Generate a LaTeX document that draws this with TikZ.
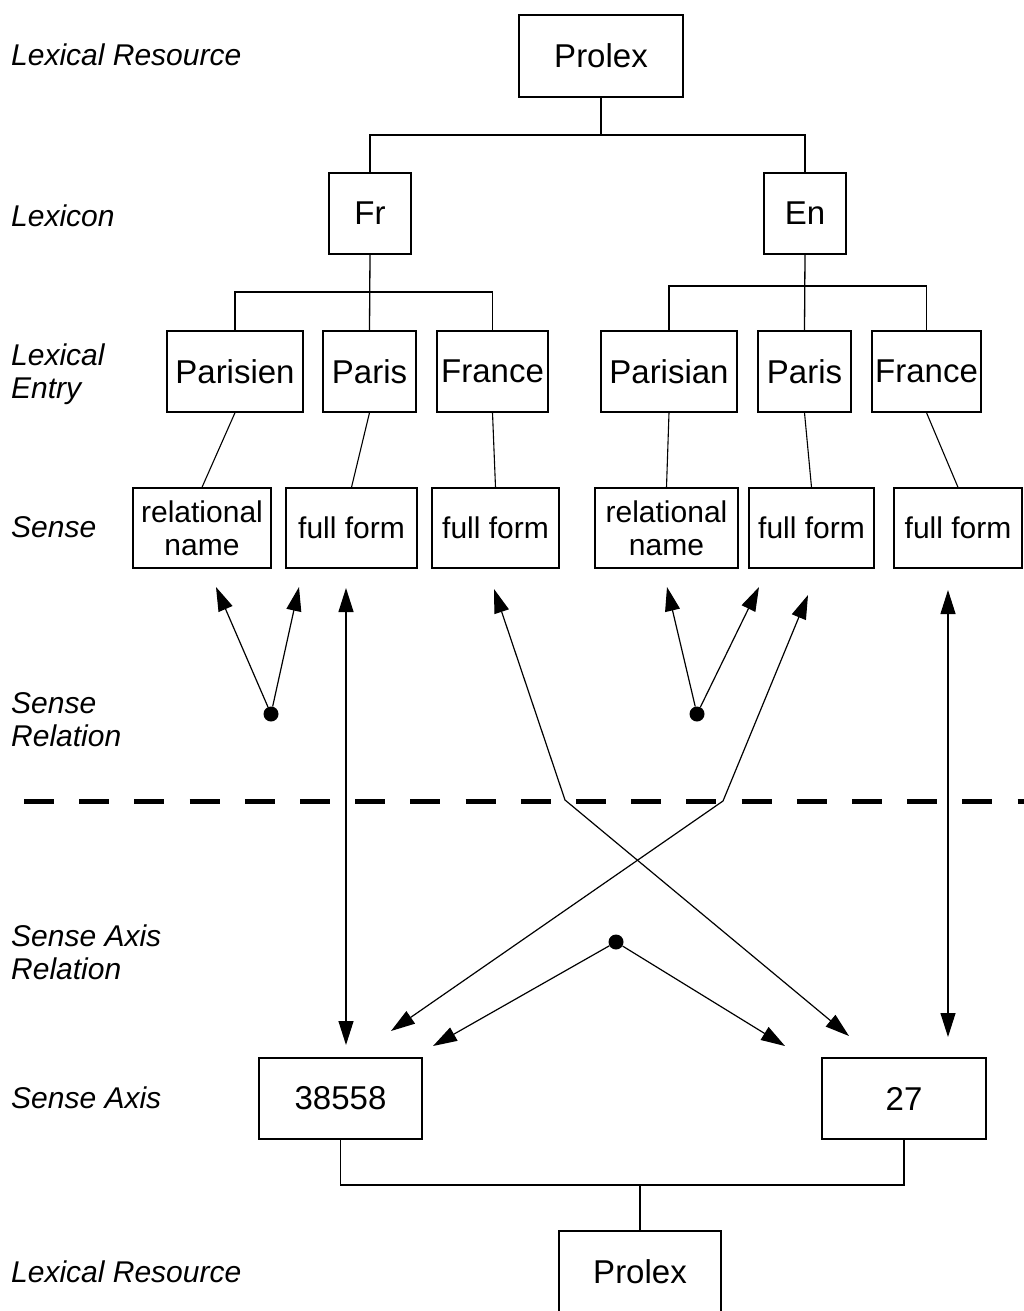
\documentclass[tikz,border=0pt]{standalone}
\usepackage{fontspec}
\setmainfont{Liberation Sans}
\usetikzlibrary{arrows.meta}
\begin{document}
\begin{tikzpicture}[x=1pt,y=-1pt,
  box/.style={draw, line width=1.4pt, inner sep=0pt, font=\fontsize{33}{36}\selectfont},
  sbox/.style={draw, line width=1.4pt, inner sep=0pt, align=center, font=\fontsize{30}{33}\selectfont},
  lbl/.style={anchor=west, inner sep=0pt, align=left, font=\fontsize{30}{33}\selectfont\itshape},
  tree/.style={line width=1.3pt},
  link/.style={line width=1.1pt},
  rel/.style={line width=1.2pt, -{Triangle[length=24pt,width=15pt]}},
  dbl/.style={line width=1.2pt, {Triangle[length=24pt,width=15pt]}-{Triangle[length=24pt,width=15pt]}},
  dot/.style={circle, fill, inner sep=0pt, minimum size=15pt},
]
\clip (0,0) rectangle (1024,1311);

% level labels
\node[lbl] (lres) at (11,55) {Lexical Resource};
\node[lbl] (llex) at (11,216) {Lexicon};
\node[lbl] (lent) at (11,374) {Lexical\\Entry};
\node[lbl] (lsen) at (11,527) {Sense};
\node[lbl] (lrel) at (11,720) {Sense\\Relation};
\node[lbl] (laxr) at (11,952) {Sense Axis\\Relation};
\node[lbl] (lax) at (11,1098) {Sense Axis};
\node[lbl] (lres2) at (11,1272) {Lexical Resource};

% resource and lexicons
\node[box, minimum width=164pt, minimum height=82pt] (prolex) at (601,56) {Prolex};
\node[box, minimum width=82pt, minimum height=81pt] (fr) at (370,213.5) {Fr};
\node[box, minimum width=82pt, minimum height=81pt] (en) at (805,213.5) {En};

% lexical entries
\node[box, minimum width=136pt, minimum height=81pt] (parisien) at (235,371.5) {Parisien};
\node[box, minimum width=93pt, minimum height=81pt] (parisfr) at (369.5,371.5) {Paris};
\node[box, minimum width=111pt, minimum height=81pt] (francefr) at (492.5,371.5) {France};
\node[box, minimum width=136pt, minimum height=81pt] (parisian) at (669,371.5) {Parisian};
\node[box, minimum width=93pt, minimum height=81pt] (parisen) at (804.5,371.5) {Paris};
\node[box, minimum width=109pt, minimum height=81pt] (franceen) at (926.5,371.5) {France};

% senses
\node[sbox, minimum width=138pt, minimum height=80pt] (relfr) at (202,528) {relational\\name};
\node[sbox, minimum width=131pt, minimum height=80pt] (ff1) at (351.5,528) {full form};
\node[sbox, minimum width=127pt, minimum height=80pt] (ff2) at (495.5,528) {full form};
\node[sbox, minimum width=143pt, minimum height=80pt] (relen) at (666.5,528) {relational\\name};
\node[sbox, minimum width=125pt, minimum height=80pt] (ff3) at (811.5,528) {full form};
\node[sbox, minimum width=128pt, minimum height=80pt] (ff4) at (958,528) {full form};

% sense axes and second resource
\node[box, minimum width=163pt, minimum height=81pt] (ax1) at (340.5,1098.5) {38558};
\node[box, minimum width=164pt, minimum height=81pt] (ax2) at (904,1098.5) {27};
\node[box, minimum width=162pt, minimum height=82pt] (prolex2) at (640,1272) {Prolex};

% tree connectors
\coordinate (j0) at (601,135);
\draw[tree] (prolex.south) -- (j0) -| (fr.north);
\draw[tree] (j0) -| (en.north);
\coordinate (jfr) at (370,292);
\draw[tree] (fr.south) -- (parisfr.north);
\draw[tree] (jfr) -| (parisien.north);
\draw[tree] (jfr) -| (francefr.north);
\coordinate (jen) at (805,286);
\draw[tree] (en.south) -- (parisen.north);
\draw[tree] (jen) -| (parisian.north);
\draw[tree] (jen) -| (franceen.north);
\coordinate (jax) at (640,1185);
\draw[tree] (ax1.south) |- (jax) -| (ax2.south);
\draw[tree] (jax) -- (prolex2.north);

% entry to sense links
\draw[link] (parisien.south) -- (relfr.north);
\draw[link] (parisfr.south) -- (ff1.north);
\draw[link] (francefr.south) -- (ff2.north);
\draw[link] (parisian.south) -- (relen.north);
\draw[link] (parisen.south) -- (ff3.north);
\draw[link] (franceen.south) -- (ff4.north);

% sense relations
\node[dot] (d1) at (271,714) {};
\coordinate (t1a) at (216,587);
\coordinate (t1b) at (299,587);
\draw[rel] (d1) -- (t1a);
\draw[rel] (d1) -- (t1b);
\node[dot] (d2) at (697,714) {};
\coordinate (t2a) at (667,587);
\coordinate (t2b) at (759,587);
\draw[rel] (d2) -- (t2a);
\draw[rel] (d2) -- (t2b);

% separator
\coordinate (sepL) at (24,801);
\coordinate (sepR) at (1060,801);
\draw[line width=5pt, dash pattern=on 30pt off 25.2pt] (sepL) -- (sepR);

% sense axis links
\coordinate (v1t) at (346,588);
\coordinate (v1b) at (346,1045);
\draw[dbl] (v1t) -- (v1b);
\coordinate (v2t) at (948,590);
\coordinate (v2b) at (948,1037);
\draw[dbl] (v2t) -- (v2b);
\coordinate (cat) at (494,589);
\coordinate (cam) at (565,800);
\coordinate (cab) at (849,1036);
\draw[dbl] (cat) -- (cam) -- (cab);
\coordinate (cbt) at (808,595);
\coordinate (cbm) at (723,801);
\coordinate (cbb) at (391,1031);
\draw[dbl] (cbt) -- (cbm) -- (cbb);

% sense axis relation
\node[dot] (d3) at (616,942) {};
\coordinate (t3a) at (433,1046);
\coordinate (t3b) at (785,1046);
\draw[rel] (d3) -- (t3a);
\draw[rel] (d3) -- (t3b);
\end{tikzpicture}
\end{document}
